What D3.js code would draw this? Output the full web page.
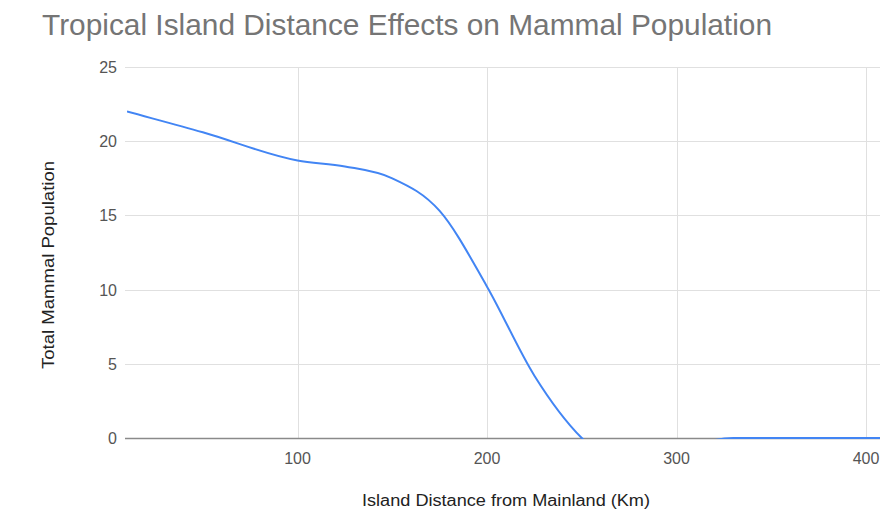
<!DOCTYPE html>
<html>
<head>
<meta charset="utf-8">
<script src="https://cdn.jsdelivr.net/npm/d3@7"></script>
<style>
  html, body { margin: 0; padding: 0; background: #fff; }
  svg { display: block; }
  text { font-family: "Liberation Sans", Arial, sans-serif; }
</style>
</head>
<body>
<svg id="chart" width="880" height="514"></svg>
<script>
// ---- data ----
const distances  = [10, 50, 100, 125, 150, 175, 200, 225, 250, 330, 400, 500];
const population = [22, 20.6, 18.7, 18.3, 17.5, 15.3, 10.2, 4.2, 0, 0, 0, 0];
const xTicks = [100, 200, 300, 400];
const yTicks = [0, 5, 10, 15, 20, 25];
const titleText = "Tropical Island Distance Effects on Mammal Population";
const xTitle = "Island Distance from Mainland (Km)";
const yTitle = "Total Mammal Population";

(function () {
// Smooth function-style curve (cubic Hermite with parabolic / Bessel tangents),
// like the spreadsheet's "smooth" line; it can overshoot like the original.
function curveSmoothFn(context) {
  let pts = [];
  return {
    areaStart() {}, areaEnd() {},
    lineStart() { pts = []; },
    point(x, y) { pts.push([+x, +y]); },
    lineEnd() {
      const n = pts.length;
      if (!n) return;
      const h = [], d = [];
      for (let i = 0; i < n - 1; i++) {
        h.push(pts[i + 1][0] - pts[i][0]);
        d.push((pts[i + 1][1] - pts[i][1]) / h[i]);
      }
      const m = pts.map((p, i) => {
        if (n === 1) return 0;
        if (i === 0) return d[0];
        if (i === n - 1) return d[n - 2];
        return (h[i] * d[i - 1] + h[i - 1] * d[i]) / (h[i - 1] + h[i]);
      });
      context.moveTo(pts[0][0], pts[0][1]);
      for (let i = 0; i < n - 1; i++) {
        const [x0, y0] = pts[i], [x1, y1] = pts[i + 1];
        const s = h[i] / 3;
        context.bezierCurveTo(x0 + s, y0 + m[i] * s, x1 - s, y1 - m[i + 1] * s, x1, y1);
      }
    }
  };
}

const data = distances.map((d, i) => ({x: d, y: population[i]}));

const svg = d3.select("#chart");
const W = 880;
const pLeft = 127, pTop = 67, pBottom = 438;

const x = d3.scaleLinear().domain([10, 400]).range([pLeft, 866]);
const y = d3.scaleLinear().domain([0, 25]).range([pBottom, pTop]);
const pRight = x(500);

// title
svg.append("text")
  .attr("x", 42).attr("y", 35)
  .attr("font-size", 29)
  .attr("fill", "#757575")
  .attr("textLength", 730).attr("lengthAdjust", "spacingAndGlyphs")
  .text(titleText);

// horizontal gridlines
svg.append("g").selectAll("line").data(yTicks.filter(d => d !== 0)).join("line")
  .attr("x1", pLeft - 2).attr("x2", W)
  .attr("y1", d => Math.round(y(d)) + 0.5).attr("y2", d => Math.round(y(d)) + 0.5)
  .attr("stroke", "#e0e0e0").attr("stroke-width", 1);

// vertical gridlines
svg.append("g").selectAll("line").data(xTicks).join("line")
  .attr("x1", d => Math.round(x(d)) + 0.5).attr("x2", d => Math.round(x(d)) + 0.5)
  .attr("y1", pTop).attr("y2", pBottom)
  .attr("stroke", "#e0e0e0").attr("stroke-width", 1);

// y tick labels
svg.append("g").selectAll("text").data(yTicks).join("text")
  .attr("x", 117).attr("y", d => y(d) + 6)
  .attr("text-anchor", "end")
  .attr("font-size", 16).attr("fill", "#555")
  .text(d => d);

// x tick labels
svg.append("g").selectAll("text").data(xTicks).join("text")
  .attr("x", d => x(d)).attr("y", 464)
  .attr("text-anchor", "middle")
  .attr("font-size", 16).attr("fill", "#555")
  .text(d => d);

// clip for line
svg.append("clipPath").attr("id", "plotclip")
  .append("rect").attr("x", pLeft).attr("y", pTop - 2)
  .attr("width", pRight - pLeft).attr("height", pBottom - pTop + 3);

// baseline (zero line)
svg.append("line")
  .attr("x1", pLeft - 2).attr("x2", W)
  .attr("y1", pBottom + 0.5).attr("y2", pBottom + 0.5)
  .attr("stroke", "#8a8a8a").attr("stroke-width", 1.5);

// series line
const line = d3.line()
  .x(d => x(d.x)).y(d => y(d.y))
  .curve(curveSmoothFn);

svg.append("path")
  .datum(data)
  .attr("clip-path", "url(#plotclip)")
  .attr("fill", "none")
  .attr("stroke", "#4285f4")
  .attr("stroke-width", 2)
  .attr("d", line);

// axis titles
svg.append("text")
  .attr("x", 506).attr("y", 506)
  .attr("text-anchor", "middle")
  .attr("font-size", 16).attr("fill", "#222")
  .attr("textLength", 288).attr("lengthAdjust", "spacingAndGlyphs")
  .text(xTitle);

svg.append("text")
  .attr("transform", "translate(54,265) rotate(-90)")
  .attr("text-anchor", "middle")
  .attr("font-size", 16).attr("fill", "#222")
  .attr("textLength", 208).attr("lengthAdjust", "spacingAndGlyphs")
  .text(yTitle);
})();
</script>
</body>
</html>
